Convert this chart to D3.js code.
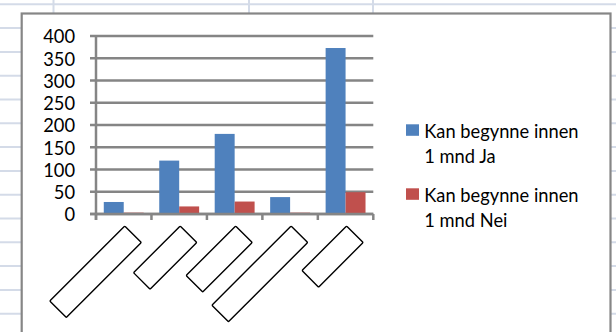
<!DOCTYPE html>
<html>
<head>
<meta charset="utf-8">
<script src="https://cdn.jsdelivr.net/npm/d3@7"></script>
<style>
  html, body { margin: 0; padding: 0; background: #ffffff; }
  svg { display: block; }
  text { font-family: Lato, "Open Sans", sans-serif; fill: #000; }
</style>
</head>
<body>
<svg id="chart" width="616" height="332"></svg>
<script>
// ---- data ----
const categories = ["Kategori 1", "Kategori 2", "Kategori 3", "Kategori 4", "Kategori 5"];
const seriesNames = ["Kan begynne innen 1 mnd Ja", "Kan begynne innen 1 mnd Nei"];
const valuesJa = [27, 120, 180, 38, 373];
const valuesNei = [3, 17, 28, 3, 49];
const yTicks = [0, 50, 100, 150, 200, 250, 300, 350, 400];

// ---- drawing ----
const svg = d3.select("#chart");
const W = 616, H = 332;
const colors = ["#4f81bd", "#c0504d"];
const fontSize = 18.3;

// spreadsheet background grid
const sheet = svg.append("g");
const rowYs = d3.range(0, 14).map(i => 4.3 + i * 23.8);
sheet.selectAll("line.row").data(rowYs).join("line")
  .attr("x1", 0).attr("x2", W).attr("y1", d => d).attr("y2", d => d)
  .attr("stroke", "#d4dbe8").attr("stroke-width", 2);
[53.5, 249, 373].forEach(x => {
  sheet.append("line").attr("x1", x).attr("x2", x).attr("y1", 0).attr("y2", H)
    .attr("stroke", "#d4dbe8").attr("stroke-width", 2);
});

// chart area
svg.append("rect")
  .attr("x", 21.7).attr("y", 13.5).attr("width", 610.5 - 21.7).attr("height", 400)
  .attr("fill", "#ffffff").attr("stroke", "#868686").attr("stroke-width", 2.2);

const plotL = 96, plotR = 373.3, plotT = 36, plotB = 214;
const x = d3.scaleBand().domain(categories).range([plotL, plotR]).paddingInner(0).paddingOuter(0);
const y = d3.scaleLinear().domain([0, 400]).range([plotB, plotT]);
const inner = d3.scaleBand().domain([0, 1]).range([0, x.bandwidth()]).paddingOuter(0.39).paddingInner(0);

// gridlines + y-axis ticks
const grid = svg.append("g");
grid.selectAll("line").data(yTicks).join("line")
  .attr("x1", plotL - 6).attr("x2", plotR)
  .attr("y1", d => y(d)).attr("y2", d => y(d))
  .attr("stroke", "#858585").attr("stroke-width", 2.5);

// y-axis labels
const yAxis = d3.axisLeft(y).tickValues(yTicks).tickSize(0).tickPadding(0);
const yg = svg.append("g").attr("transform", `translate(${plotL - 21},0)`).call(yAxis);
yg.select(".domain").remove();
yg.selectAll("text").attr("font-size", fontSize).attr("font-family", "Lato, 'Open Sans', sans-serif")
  .attr("fill", "#000").attr("dy", "0.37em");

// bars
const series = [valuesJa, valuesNei];
series.forEach((vals, si) => {
  svg.append("g").selectAll("rect").data(vals).join("rect")
    .attr("x", (d, i) => x(categories[i]) + inner(si))
    .attr("width", inner.bandwidth())
    .attr("y", d => y(d))
    .attr("height", d => y(0) - y(d))
    .attr("fill", colors[si]);
});

// axes lines
svg.append("line").attr("x1", plotL).attr("x2", plotL).attr("y1", plotT - 1).attr("y2", plotB + 6)
  .attr("stroke", "#858585").attr("stroke-width", 2.5);
const catTicks = categories.map(c => x(c) + x.bandwidth()).concat([plotL]);
svg.append("g").selectAll("line").data(catTicks).join("line")
  .attr("x1", d => d).attr("x2", d => d).attr("y1", plotB).attr("y2", plotB + 6)
  .attr("stroke", "#858585").attr("stroke-width", 2.5);
svg.append("line").attr("x1", plotL - 6).attr("x2", plotR).attr("y1", plotB).attr("y2", plotB)
  .attr("stroke", "#858585").attr("stroke-width", 2.5);

// rotated category label boxes (labels hidden behind boxes)
const boxLen = [106, 66, 70, 112, 63];
svg.append("g").selectAll("rect").data(categories).join("rect")
  .attr("transform", (d, i) => `translate(${x(d) + x.bandwidth() / 2 + 1},226) rotate(-45)`)
  .attr("x", (d, i) => -boxLen[i]).attr("y", 0)
  .attr("width", (d, i) => boxLen[i]).attr("height", 23.4)
  .attr("rx", 1)
  .attr("fill", "#ffffff").attr("stroke", "#000").attr("stroke-width", 1.4);

// legend
const legend = svg.append("g");
const legendY = [124.3, 188.3];
seriesNames.forEach((name, i) => {
  const g = legend.append("g").attr("transform", `translate(406,${legendY[i]})`);
  g.append("rect").attr("width", 13).attr("height", 11.5).attr("fill", colors[i]);
  const words = name.split(" ");
  const line1 = words.slice(0, 3).join(" ");
  const line2 = words.slice(3).join(" ");
  g.append("text").attr("x", 18.3).attr("y", 13.4).attr("font-size", fontSize).text(line1);
  g.append("text").attr("x", 18.3).attr("y", 38.4).attr("font-size", fontSize).text(line2);
});
</script>
</body>
</html>
